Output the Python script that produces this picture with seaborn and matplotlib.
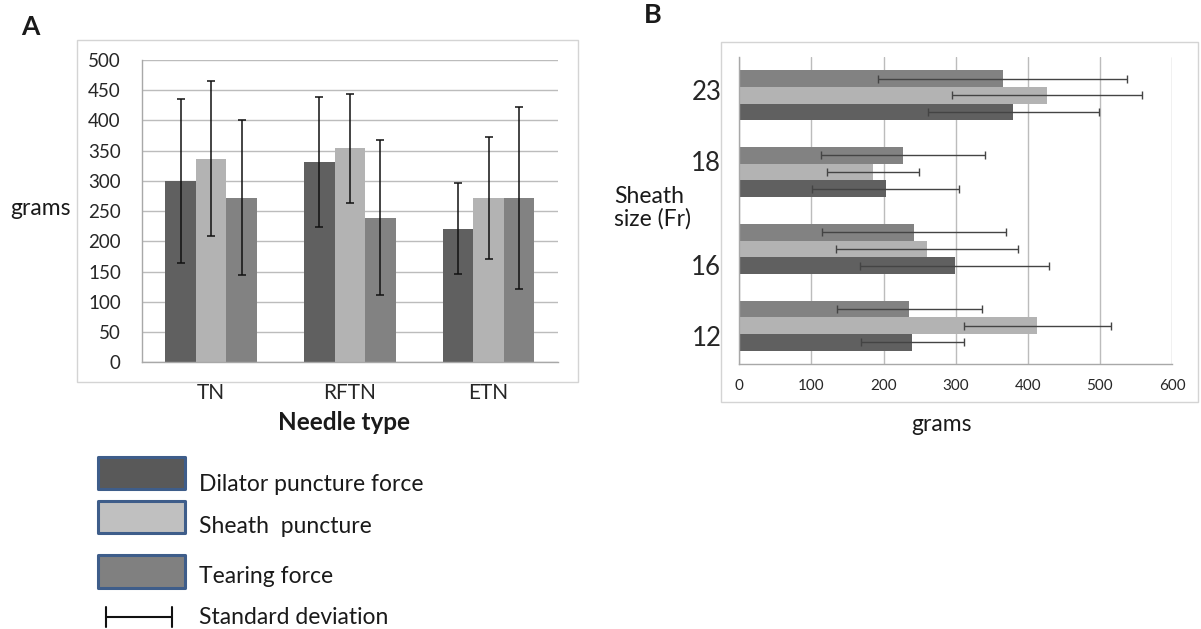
import matplotlib
matplotlib.use("Agg")
import matplotlib.pyplot as plt
from matplotlib.patches import Rectangle
from matplotlib.lines import Line2D
import pandas as pd
import seaborn as sns

# Panel A: forces by needle type (grams, mean and SD)
needle_types = ["TN", "RFTN", "ETN"]
dilator_a = [300, 331, 221]
sheath_a = [337, 354, 272]
tearing_a = [272, 239, 272]
dilator_a_sd = [136, 108, 75]
sheath_a_sd = [128, 90, 101]
tearing_a_sd = [128, 128, 150]

# Panel B: forces by sheath size (Fr), grams, mean and SD
sheath_sizes = ["12", "16", "18", "23"]
dilator_b = [240, 299, 203, 380]
sheath_b = [413, 260, 185, 427]
tearing_b = [236, 242, 227, 365]
dilator_b_sd = [71, 131, 102, 119]
sheath_b_sd = [102, 126, 64, 132]
tearing_b_sd = [100, 128, 114, 173]

series_names = ["Dilator puncture force", "Sheath  puncture", "Tearing force"]
bar_colors = {series_names[0]: "#606060", series_names[1]: "#b3b3b3", series_names[2]: "#828282"}
legend_fill = ["#595959", "#c0c0c0", "#808080"]
legend_edge = "#3e5d8a"

W, H = 1201, 629


def fx(x):
    return x / W


def fy(y):
    return 1 - y / H


def long_table(cats, cat_col, series_vals, series_sds):
    rows = []
    for name, vals, sds in zip(series_names, series_vals, series_sds):
        for c, v, s in zip(cats, vals, sds):
            rows.append({cat_col: c, "series": name, "grams": v, "sd": s})
    return pd.DataFrame(rows)


df_a = long_table(needle_types, "needle", [dilator_a, sheath_a, tearing_a],
                  [dilator_a_sd, sheath_a_sd, tearing_a_sd])
df_b = long_table(sheath_sizes, "size", [dilator_b, sheath_b, tearing_b],
                  [dilator_b_sd, sheath_b_sd, tearing_b_sd])

sns.set_style("white")
plt.rcParams["font.family"] = ["Lato", "DejaVu Sans"]
plt.rcParams["text.color"] = "#1a1a1a"

fig = plt.figure(figsize=(W / 100, H / 100), dpi=100)
grid_col = "#bcbcbc"
spine_col = "#a8a8a8"

# ---------------- Panel A: vertical grouped bars ----------------
ax_a = fig.add_axes([fx(141.7), fy(362.3), fx(558) - fx(141.7), fy(60) - fy(362.3)])
sns.barplot(data=df_a, x="needle", y="grams", hue="series", order=needle_types,
            hue_order=series_names, palette=bar_colors, width=0.66, gap=0,
            errorbar=None, legend=False, saturation=1, linewidth=0, ax=ax_a)
for cont, name in zip(ax_a.containers, series_names):
    sub = df_a[df_a["series"] == name].set_index("needle").loc[needle_types]
    xs = [p.get_x() + p.get_width() / 2 for p in cont]
    ax_a.errorbar(xs, sub["grams"], yerr=sub["sd"], fmt="none", ecolor="#111111",
                  elinewidth=1.1, capsize=3, capthick=1.1, zorder=4)
ax_a.set_ylim(0, 500)
ax_a.set_xlim(-0.5, 2.5)
ax_a.set_yticks(range(0, 501, 50))
ax_a.yaxis.grid(True, color=grid_col, lw=1)
ax_a.xaxis.grid(False)
ax_a.set_axisbelow(True)
for s in ["top", "right"]:
    ax_a.spines[s].set_visible(False)
for s in ["left", "bottom"]:
    ax_a.spines[s].set_color(spine_col)
    ax_a.spines[s].set_linewidth(1)
ax_a.tick_params(axis="y", length=6, color=spine_col, width=1, labelsize=13.5, pad=9)
ax_a.tick_params(axis="x", length=0, labelsize=15, pad=15)
ax_a.set_xlabel("")
ax_a.set_ylabel("")

# ---------------- Panel B: horizontal grouped bars ----------------
size_order = sheath_sizes[::-1]
ax_b = fig.add_axes([fx(739.3), fy(364), fx(1172) - fx(739.3), fy(57) - fy(364)])
sns.barplot(data=df_b, y="size", x="grams", hue="series", order=size_order,
            hue_order=series_names[::-1], palette=bar_colors, width=0.65, gap=0,
            orient="h", errorbar=None, legend=False, saturation=1, linewidth=0, ax=ax_b)
for cont, name in zip(ax_b.containers, series_names[::-1]):
    sub = df_b[df_b["series"] == name].set_index("size").loc[size_order]
    ys = [p.get_y() + p.get_height() / 2 for p in cont]
    ax_b.errorbar(sub["grams"], ys, xerr=sub["sd"], fmt="none", ecolor="#444444",
                  elinewidth=1, capsize=3, capthick=1, zorder=4)
ax_b.set_xlim(0, 600)
ax_b.set_ylim(3.5, -0.5)
ax_b.set_xticks(range(0, 601, 100))
label_shift = [-0.065, -0.143, 0.208, 0.13]
ax_b.set_yticks([i + d for i, d in enumerate(label_shift)], labels=size_order)
ax_b.xaxis.grid(True, color=grid_col, lw=1)
ax_b.yaxis.grid(False)
ax_b.set_axisbelow(True)
for s in ["top", "right"]:
    ax_b.spines[s].set_visible(False)
for s in ["left", "bottom"]:
    ax_b.spines[s].set_color(spine_col)
    ax_b.spines[s].set_linewidth(1)
ax_b.tick_params(axis="x", length=4, color=spine_col, width=1, labelsize=11, pad=7)
ax_b.tick_params(axis="y", length=0, labelsize=18.5, pad=13)
ax_b.set_xlabel("")
ax_b.set_ylabel("")

# ---------------- chart frames ----------------
for x0, y0, x1, y1 in [(77, 40, 578, 382), (720.7, 42.3, 1198, 402)]:
    fig.add_artist(Rectangle((fx(x0), fy(y1)), fx(x1) - fx(x0), fy(y0) - fy(y1),
                             transform=fig.transFigure, fill=False,
                             edgecolor="#d4d4d4", lw=1, zorder=0))

# ---------------- titles and axis labels ----------------
fig.text(fx(30), fy(27), "A", ha="center", va="center", fontsize=19, fontweight="bold")
fig.text(fx(653), fy(15), "B", ha="center", va="center", fontsize=19.5, fontweight="bold")
fig.text(fx(40.5), fy(215), "grams", ha="center", va="baseline", fontsize=16.5)
fig.text(fx(344), fy(430), "Needle type", ha="center", va="baseline",
         fontsize=17.5, fontweight="bold")
fig.text(fx(614), fy(203), "Sheath", ha="left", va="baseline", fontsize=16.5)
fig.text(fx(614), fy(226), "size (Fr)", ha="left", va="baseline", fontsize=16.5)
fig.text(fx(941.7), fy(431), "grams", ha="center", va="baseline", fontsize=16.5)

# ---------------- legend ----------------
legend_boxes = [(457, 489.4), (501.3, 532.7), (555.3, 587.7)]
for (y0, y1), fc in zip(legend_boxes, legend_fill):
    fig.add_artist(Rectangle((fx(98), fy(y1)), fx(184.7) - fx(98), fy(y0) - fy(y1),
                             transform=fig.transFigure, facecolor=fc,
                             edgecolor=legend_edge, lw=2.2, joinstyle="round"))
legend_baselines = [490.7, 532.7, 582.7]
for name, yb in zip(series_names, legend_baselines):
    fig.text(fx(199), fy(yb), name, ha="left", va="baseline", fontsize=16.5)
fig.add_artist(Line2D([fx(106), fx(172)], [fy(616.7), fy(616.7)],
                      transform=fig.transFigure, color="#111111", lw=1.5))
for xc in (106, 172):
    fig.add_artist(Line2D([fx(xc), fx(xc)], [fy(607), fy(627)],
                          transform=fig.transFigure, color="#111111", lw=1.5))
fig.text(fx(199), fy(624.3), "Standard deviation", ha="left", va="baseline", fontsize=16.5)

fig.savefig("out.png", dpi=100)
